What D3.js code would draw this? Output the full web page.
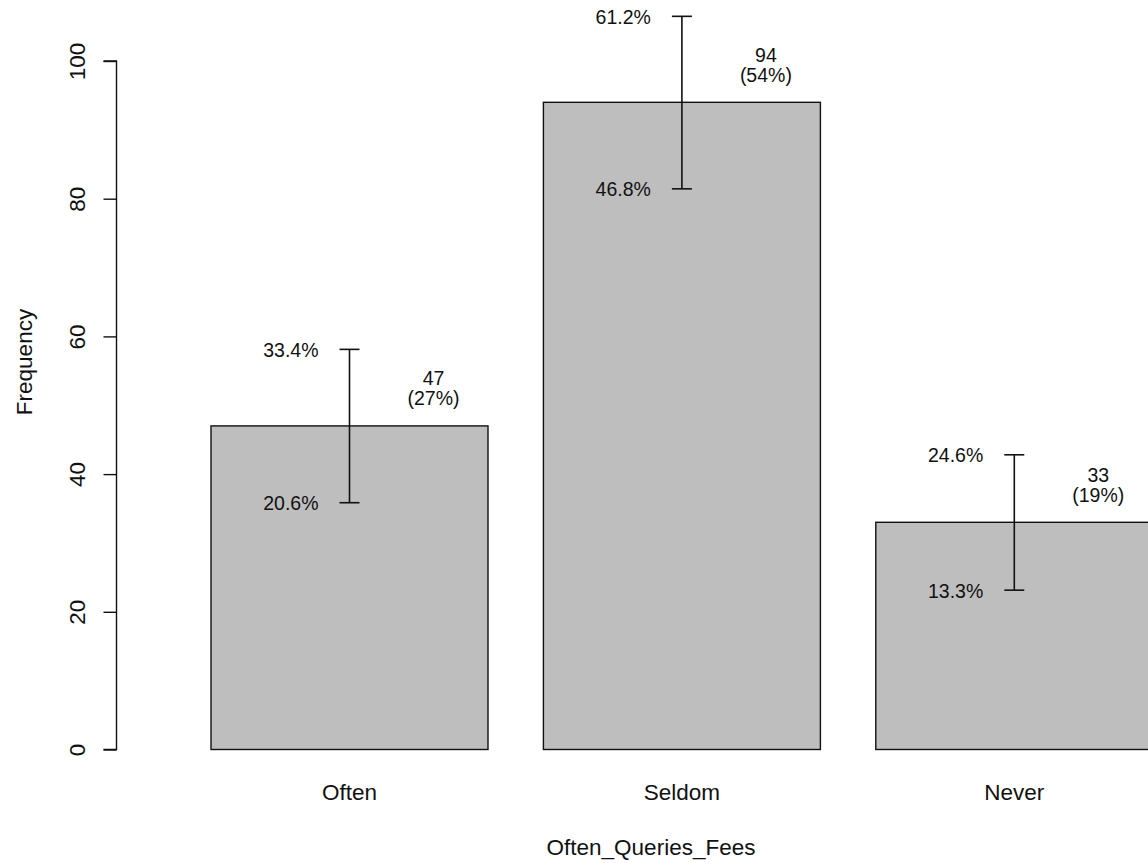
<!DOCTYPE html>
<html>
<head>
<meta charset="utf-8">
<script src="https://cdn.jsdelivr.net/npm/d3@7"></script>
<style>
  html, body { margin: 0; padding: 0; background: #ffffff; }
  svg { display: block; font-family: "Liberation Sans", Arial, sans-serif; }
</style>
</head>
<body>
<svg id="chart" width="1148" height="863"></svg>
<script>
// Response counts for how often fees are queried
const categories = ["Often", "Seldom", "Never"];
const counts = [47, 94, 33];
// 95% confidence interval bounds, in percent of all responses
const ciLower = [20.6, 46.8, 13.3];
const ciUpper = [33.4, 61.2, 24.6];
const yTicks = [0, 20, 40, 60, 80, 100];
const xTitle = "Often_Queries_Fees";
const yTitle = "Frequency";

const total = d3.sum(counts);
const svg = d3.select("#chart");

const x = d3.scaleBand()
  .domain(categories)
  .range([183.3, 1180.5])
  .paddingInner(1 / 6)
  .paddingOuter(1 / 12);

const y = d3.scaleLinear().domain([0, 100]).range([749.5, 61]);

const axisFont = 22.5;
const labelFont = 19.5;

// bars
svg.append("g").selectAll("rect")
  .data(categories)
  .join("rect")
  .attr("x", d => x(d))
  .attr("y", (d, i) => y(counts[i]))
  .attr("width", x.bandwidth())
  .attr("height", (d, i) => y(0) - y(counts[i]))
  .attr("fill", "#bebebe")
  .attr("stroke", "#111")
  .attr("stroke-width", 1.4);

// y axis
const yAxis = svg.append("g")
  .attr("transform", "translate(116.5,0)")
  .call(d3.axisLeft(y).tickValues(yTicks).tickSize(13).tickFormat(d3.format("d")));
yAxis.select(".domain").attr("stroke", "#111").attr("stroke-width", 1.4)
  .attr("d", `M-13,${y(0)}H0V${y(100)}H-13`);
yAxis.selectAll(".tick line").attr("stroke", "#111").attr("stroke-width", 1.4);
yAxis.selectAll(".tick text")
  .attr("font-size", axisFont)
  .attr("fill", "#111")
  .attr("text-anchor", "middle")
  .attr("dy", null)
  .attr("x", null)
  .attr("transform", "translate(-31.5,0) rotate(-90)")
  .attr("y", 0);

// category labels
svg.append("g").selectAll("text")
  .data(categories)
  .join("text")
  .attr("x", d => x(d) + x.bandwidth() / 2)
  .attr("y", 800)
  .attr("text-anchor", "middle")
  .attr("font-size", axisFont)
  .attr("fill", "#111")
  .text(d => d);

// axis titles
svg.append("text")
  .attr("x", 651)
  .attr("y", 855)
  .attr("text-anchor", "middle")
  .attr("font-size", axisFont)
  .attr("fill", "#111")
  .text(xTitle);

svg.append("text")
  .attr("transform", "translate(32,362) rotate(-90)")
  .attr("text-anchor", "middle")
  .attr("font-size", axisFont)
  .attr("fill", "#111")
  .text(yTitle);

// confidence interval whiskers
const ci = categories.map((c, i) => ({
  c,
  lo: ciLower[i] * total / 100,
  hi: ciUpper[i] * total / 100,
  loLabel: ciLower[i].toFixed(1) + "%",
  hiLabel: ciUpper[i].toFixed(1) + "%"
}));
const cx = d => x(d.c) + x.bandwidth() / 2;
const capHalf = 10;

const whisk = svg.append("g").attr("stroke", "#111").attr("stroke-width", 1.6);
ci.forEach(d => {
  whisk.append("line").attr("x1", cx(d)).attr("x2", cx(d)).attr("y1", y(d.lo)).attr("y2", y(d.hi));
  whisk.append("line").attr("x1", cx(d) - capHalf).attr("x2", cx(d) + capHalf).attr("y1", y(d.lo)).attr("y2", y(d.lo));
  whisk.append("line").attr("x1", cx(d) - capHalf).attr("x2", cx(d) + capHalf).attr("y1", y(d.hi)).attr("y2", y(d.hi));
});

const ciText = svg.append("g")
  .attr("font-size", labelFont)
  .attr("fill", "#111")
  .attr("text-anchor", "end");
ci.forEach(d => {
  ciText.append("text").attr("x", cx(d) - 31).attr("y", y(d.hi) + 7.5).text(d.hiLabel);
  ciText.append("text").attr("x", cx(d) - 31).attr("y", y(d.lo) + 7.5).text(d.loLabel);
});

// count and share labels above each bar
const countText = svg.append("g")
  .attr("font-size", labelFont)
  .attr("fill", "#111")
  .attr("text-anchor", "middle");
categories.forEach((c, i) => {
  const lx = x(c) + x.bandwidth() / 2 + 84;
  const top = y(counts[i]);
  countText.append("text").attr("x", lx).attr("y", top - 40.5).text(counts[i]);
  countText.append("text").attr("x", lx).attr("y", top - 20.5)
    .text("(" + Math.round(counts[i] / total * 100) + "%)");
});
</script>
</body>
</html>
